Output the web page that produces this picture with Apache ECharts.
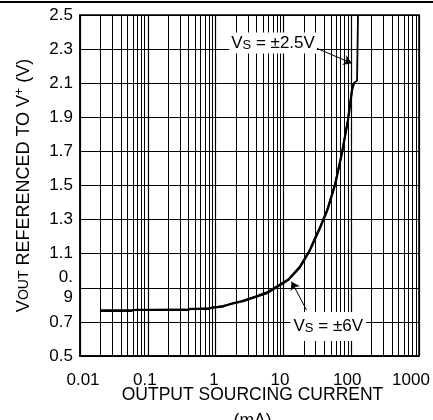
<!DOCTYPE html>
<html>
<head>
<meta charset="utf-8">
<script src="https://cdn.jsdelivr.net/npm/echarts@6/dist/echarts.min.js"></script>
<style>
  html, body { margin: 0; padding: 0; background: #fff; }
  #chart { width: 433px; height: 420px; }
</style>
</head>
<body>
<div id="chart"></div>
<script>
// Output voltage (referenced to V+) versus output sourcing current
const currentVs6 = [0.0197, 0.0565, 0.0647, 0.378, 0.419, 0.773, 0.885, 1.285, 1.806, 2.54, 4.08, 5.73, 8.05, 11.7, 17.6, 24.7, 29.2, 34.7, 44.0, 57.7, 73.1, 89.7, 102.8, 109.9];
const voutVs6    = [0.764, 0.764, 0.770, 0.770, 0.776, 0.776, 0.784, 0.790, 0.809, 0.822, 0.849, 0.869, 0.904, 0.945, 1.021, 1.121, 1.185, 1.250, 1.350, 1.502, 1.690, 1.883, 2.059, 2.100];

const currentVs25 = [0.0197, 0.06, 0.4, 0.8, 1.3, 2.5, 4.0, 5.6, 8.0, 12, 17.5, 24, 29, 35, 44, 57, 72, 89, 102, 105, 122, 126, 126];
const voutVs25    = [0.769, 0.769, 0.773, 0.780, 0.794, 0.824, 0.852, 0.873, 0.909, 0.952, 1.026, 1.115, 1.19, 1.262, 1.355, 1.50, 1.68, 1.88, 2.05, 2.095, 2.115, 2.12, 2.5];

const xTickLabels = ['0.01', '0.1', '1', '10', '100', '1000'];
const yTickLabels = ['0.5', '0.7', '0.\n9', '1.1', '1.3', '1.5', '1.7', '1.9', '2.1', '2.3', '2.5'];

// 2..9 gridlines inside every decade of the log axis
const decades = [0.01, 0.1, 1, 10, 100];
const minorSteps = [2, 3, 4, 5, 6, 7, 8, 9];
const minorLines = [];
decades.forEach(d => minorSteps.forEach(m => minorLines.push(+(d * m).toPrecision(3))));

const pair = (xs, ys) => xs.map((x, i) => [x, ys[i]]);

const FONT = 'Liberation Sans, Arial, Helvetica, sans-serif';
const noteRich = {
  v: { fontSize: 17, lineHeight: 17, fontFamily: FONT, color: '#000' },
  s: { fontSize: 13, lineHeight: 9, verticalAlign: 'bottom', fontFamily: FONT, color: '#000' }
};
const tick = pad => ({ fontSize: 17, fontFamily: FONT, color: '#000', padding: pad });

const chart = echarts.init(document.getElementById('chart'), null, { renderer: 'canvas' });

chart.setOption({
  animation: false,
  backgroundColor: '#fff',
  grid: {
    left: 80, right: 14, top: 15, bottom: 64,
    outerBoundsMode: 'none',
    containLabel: false,
    show: true, borderColor: '#000', borderWidth: 1.5, backgroundColor: 'transparent'
  },
  graphic: [{
    type: 'line',
    shape: { x1: 0, y1: 2, x2: 433, y2: 2 },
    style: { stroke: '#000', lineWidth: 2 }
  }],
  xAxis: {
    type: 'log',
    logBase: 10,
    min: 0.01,
    max: 1000,
    axisLine: { show: true, lineStyle: { color: '#000', width: 1.5 } },
    axisTick: { show: false },
    splitLine: { show: true, lineStyle: { color: '#000', width: 1.2 } },
    axisLabel: {
      margin: 16,
      formatter: (v, i) => '{l' + i + '|' + xTickLabels[i] + '}',
      rich: {
        l0: tick([0, 0, 0, 6]),
        l1: tick([0, 6, 0, 0]),
        l2: tick([0, 3, 0, 0]),
        l3: tick([0, 7, 0, 0]),
        l4: tick([0, 8, 0, 0]),
        l5: tick([0, 16, 0, 0])
      }
    },
    name: 'OUTPUT SOURCING CURRENT\n(mA)',
    nameLocation: 'middle',
    nameMoveOverlap: false,
    nameGap: 26,
    nameTextStyle: {
      fontSize: 17.5, lineHeight: 26, fontFamily: FONT, color: '#000',
      padding: [0, 0, 0, 6]
    }
  },
  yAxis: {
    type: 'value',
    min: 0.5,
    max: 2.5,
    interval: 0.2,
    axisLine: { show: true, lineStyle: { color: '#000', width: 1.5 } },
    axisTick: { show: false },
    splitLine: { show: true, lineStyle: { color: '#000', width: 1.2 } },
    axisLabel: {
      margin: 7,
      fontSize: 17,
      lineHeight: 20,
      fontFamily: FONT,
      color: '#000',
      formatter: (v, i) => yTickLabels[i]
    },
    name: '{v|V}{sub|OUT}{v| REFERENCED TO V}{sup|+}{v| (V)}',
    nameLocation: 'middle',
    nameMoveOverlap: false,
    nameGap: 46,
    nameTextStyle: {
      rich: {
        v: { fontSize: 18, lineHeight: 20, fontFamily: FONT, color: '#000' },
        sub: { fontSize: 14, lineHeight: 20, fontFamily: FONT, color: '#000' },
        sup: { fontSize: 12, lineHeight: 12, verticalAlign: 'top', fontFamily: FONT, color: '#000' }
      }
    }
  },
  series: [
    {
      name: 'grid',
      type: 'line',
      z: 1,
      data: [],
      silent: true,
      markLine: {
        silent: true,
        symbol: 'none',
        label: { show: false },
        lineStyle: { color: '#000', width: 1, type: 'solid' },
        emphasis: { disabled: true },
        data: minorLines.map(v => ({ xAxis: v }))
      }
    },
    {
      name: 'VS = ±6V',
      type: 'line',
      z: 3,
      data: pair(currentVs6, voutVs6),
      showSymbol: false,
      lineStyle: { color: '#000', width: 2.2 },
      markLine: {
        silent: true,
        symbol: ['none', 'arrow'],
        symbolSize: 8,
        label: { show: false },
        lineStyle: { color: '#000', width: 1, type: 'solid' },
        data: [[{ coord: [21.9, 0.77] }, { coord: [13.2, 0.936] }]]
      },
      markPoint: {
        silent: true,
        symbol: 'circle',
        symbolSize: 0,
        label: {
          show: true, position: 'inside',
          formatter: '{v|V}{s|S}{v| = ±6V}',
          backgroundColor: '#fff', padding: [6, 3, 6, 3],
          rich: noteRich
        },
        data: [{ coord: [45.9, 0.673] }]
      }
    },
    {
      name: 'VS = ±2.5V',
      type: 'line',
      z: 4,
      data: pair(currentVs25, voutVs25),
      showSymbol: false,
      lineStyle: { color: '#000', width: 1.8 },
      markLine: {
        silent: true,
        symbol: ['none', 'arrow'],
        symbolSize: 8,
        label: { show: false },
        lineStyle: { color: '#000', width: 1, type: 'solid' },
        data: [[{ coord: [31, 2.305] }, { coord: [101.6, 2.217] }]]
      },
      markPoint: {
        silent: true,
        symbol: 'circle',
        symbolSize: 0,
        label: {
          show: true, position: 'inside',
          formatter: '{v|V}{s|S}{v| = ±2.5V}',
          backgroundColor: '#fff', padding: [2, 2, 2, 2],
          rich: noteRich
        },
        data: [{ coord: [7.03, 2.336] }]
      }
    }
  ]
});
</script>
</body>
</html>
